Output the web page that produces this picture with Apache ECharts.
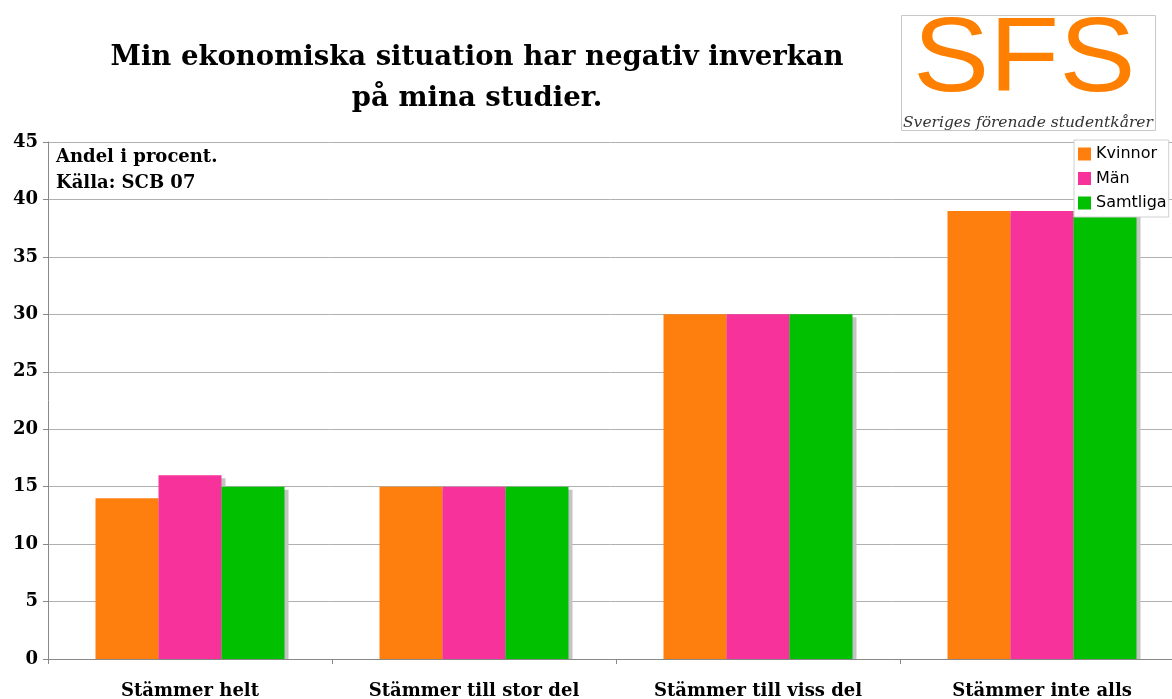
<!DOCTYPE html>
<html>
<head>
<meta charset="utf-8">
<script src="https://cdn.jsdelivr.net/npm/echarts@6/dist/echarts.min.js"></script>
<style>
  html, body { margin: 0; padding: 0; background: #fff; }
  #chart { width: 1172px; height: 699px; }
</style>
</head>
<body>
<div id="chart"></div>
<script>
// kategorier och värden (andel i procent)
var categories = ['Stämmer helt', 'Stämmer till stor del', 'Stämmer till viss del', 'Stämmer inte alls'];
var kvinnor = [14, 15, 30, 39];
var man = [16, 15, 30, 39];
var samtliga = [15, 15, 30, 39];
var yTicks = { min: 0, max: 45, interval: 5 };

var serif = '"DejaVu Serif", "Liberation Serif", serif';
var sans = '"DejaVu Sans", sans-serif';

var mychart = echarts.init(document.getElementById('chart'));

function barSeries(name, data, color) {
  return {
    name: name,
    type: 'bar',
    data: data,
    barWidth: 63,
    barGap: '0%',
    itemStyle: {
      color: color,
      shadowColor: '#c4c4c4',
      shadowOffsetX: 4,
      shadowOffsetY: 3,
      shadowBlur: 0
    }
  };
}

var option = {
  animation: false,
  backgroundColor: '#fff',
  title: {
    text: 'Min ekonomiska situation har negativ inverkan\npå mina studier.',
    left: 472,
    top: 32,
    textAlign: 'center',
    textStyle: { fontFamily: serif, fontWeight: 'bold', fontSize: 27.5, lineHeight: 41, color: '#000' }
  },
  legend: {
    orient: 'vertical',
    left: 1074,
    top: 140,
    z: 10,
    padding: [6, 2, 6, 4],
    itemWidth: 13,
    itemHeight: 13,
    itemGap: 8.5,
    backgroundColor: '#fff',
    borderColor: '#d0d0d0',
    borderWidth: 1,
    icon: 'rect',
    textStyle: { fontFamily: sans, fontSize: 16, color: '#000' },
    data: ['Kvinnor', 'Män', 'Samtliga']
  },
  grid: { left: 48, width: 1136, top: 142, bottom: 40, outerBoundsMode: 'none', containLabel: false },
  xAxis: {
    type: 'category',
    data: categories,
    z: 5,
    axisLine: { lineStyle: { color: '#888', width: 1 } },
    axisTick: { show: true, length: 5, lineStyle: { color: '#888' } },
    axisLabel: { fontFamily: serif, fontWeight: 'bold', fontSize: 18, color: '#000', margin: 23 }
  },
  yAxis: {
    type: 'value',
    min: yTicks.min,
    max: yTicks.max,
    interval: yTicks.interval,
    axisLine: { show: true, lineStyle: { color: '#888', width: 1 } },
    axisTick: { show: true, length: 5, lineStyle: { color: '#888' } },
    splitLine: { lineStyle: { color: '#b0b0b0', width: 1 } },
    axisLabel: { fontFamily: serif, fontWeight: 'bold', fontSize: 18, color: '#000', margin: 10 }
  },
  graphic: [
    {
      // döljer skuggan under nollinjen
      type: 'rect', left: 49, top: 660, z: 3,
      shape: { width: 1123, height: 5 },
      style: { fill: '#fff' }
    },
    {
      type: 'text', left: 56, top: 144,
      style: { text: 'Andel i procent.\nKälla: SCB 07', font: 'bold 18px ' + serif, lineHeight: 26, fill: '#000' }
    },
    {
      type: 'rect', left: 901, top: 15,
      shape: { width: 254, height: 115 },
      style: { fill: '#fff', stroke: '#c8c8c8', lineWidth: 1 }
    },
    {
      type: 'text', x: 913, y: 9, scaleX: 1.08,
      style: { text: 'SFS', font: '106px "Liberation Sans", Arial, sans-serif', fill: '#ff8000', letterSpacing: 10 }
    },
    {
      type: 'text', left: 903, top: 115,
      style: { text: 'Sveriges förenade studentkårer', font: 'italic 15.5px ' + serif, fill: '#333' }
    }
  ],
  series: [
    barSeries('Kvinnor', kvinnor, '#ff7f0e'),
    barSeries('Män', man, '#f7329b'),
    barSeries('Samtliga', samtliga, '#00c000')
  ]
};

mychart.setOption(option);
</script>
</body>
</html>
